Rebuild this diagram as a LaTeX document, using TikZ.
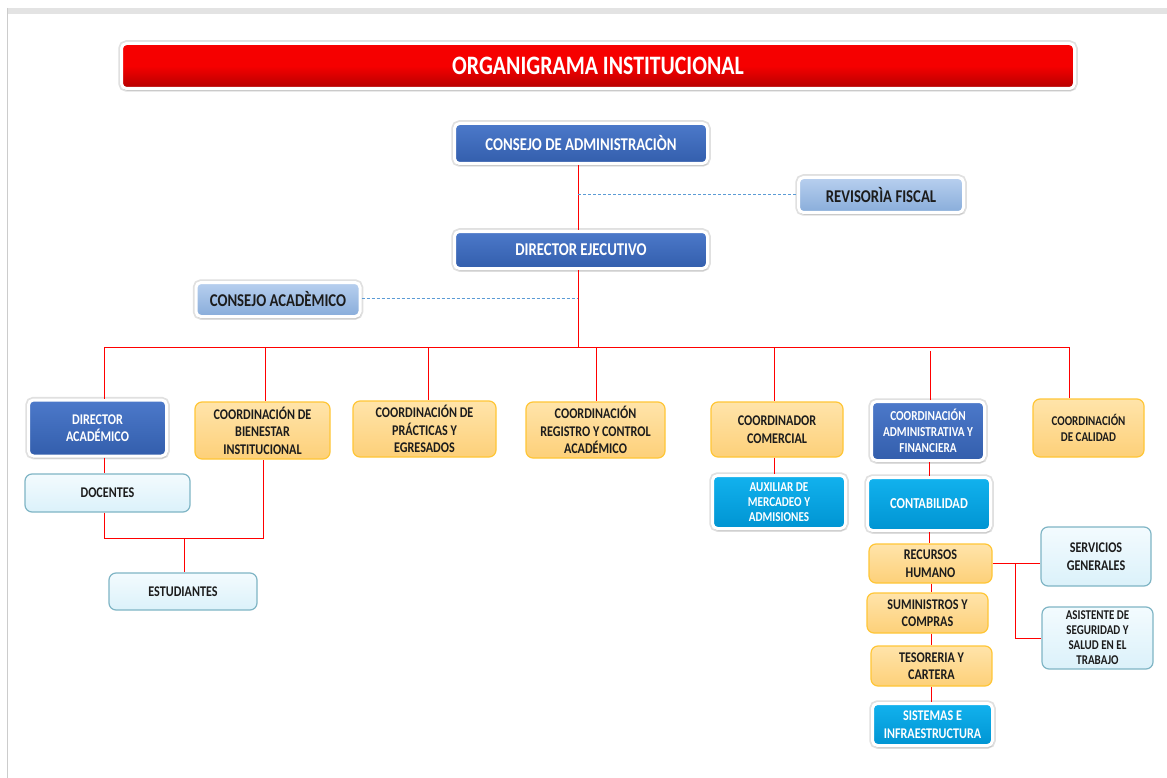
\documentclass[tikz,border=0pt]{standalone}
\usepackage{fontspec}
\newfontfamily\carl[FakeStretch=0.82]{Carlito}
\usetikzlibrary{shadows}
\definecolor{dtop}{HTML}{4C79CA}
\definecolor{dbot}{HTML}{335EAC}
\definecolor{ltop}{HTML}{B8D0EF}
\definecolor{lbot}{HTML}{88ACDA}
\definecolor{otop}{HTML}{FFE4AA}
\definecolor{obot}{HTML}{FDD079}
\definecolor{oline}{HTML}{FFC636}
\definecolor{ptop}{HTML}{F3FBFE}
\definecolor{pbot}{HTML}{DBF1FA}
\definecolor{pline}{HTML}{7FB5C5}
\definecolor{ctop}{HTML}{12B2EE}
\definecolor{cbot}{HTML}{0094D2}
\definecolor{rtop}{HTML}{F70000}
\definecolor{rbot}{HTML}{B40000}
\definecolor{dashc}{HTML}{5B9BD5}
\definecolor{txt}{HTML}{1C1C1C}
\tikzset{
  box/.style={rounded corners=5pt, inner sep=1pt, align=center,
    font=\carl\bfseries\fontsize{14.8}{17.5}\selectfont},
  shd/.style={preaction={draw=black!12, line width=6.5pt},
    drop shadow={opacity=0.22, shadow xshift=1pt, shadow yshift=-2.5pt}},
  dbox/.style={box, shd, top color=dtop, bottom color=dbot, draw=white, line width=3pt, text=white},
  lbox/.style={box, shd, top color=ltop, bottom color=lbot, draw=white, line width=3pt, text=txt},
  obox/.style={box, rounded corners=7pt, top color=otop, bottom color=obot, draw=oline, line width=1.2pt, text=txt},
  pbox/.style={box, rounded corners=7pt, top color=ptop, bottom color=pbot, draw=pline, line width=1.2pt, text=txt},
  cbox/.style={box, shd, top color=ctop, bottom color=cbot, draw=white, line width=3pt, text=white},
  fs/.style 2 args={font=\carl\bfseries\fontsize{#1}{#2}\selectfont},
  rl/.style={draw=red, line width=1pt},
  dashln/.style={draw=dashc, line width=1pt, dash pattern=on 3pt off 2pt},
}
\begin{document}
\begin{tikzpicture}[x=1pt,y=-1pt]
\useasboundingbox (0,0) rectangle (1167,778);
\fill[white] (0,0) rectangle (1167,778);
\fill[gray!22] (7,8) rectangle (1167,14);
\draw[gray!40, line width=1pt] (7.5,8) -- (7.5,778);

% title
\node[box, shd, top color=rtop, bottom color=rbot, middle color=red!96!black, draw=white, line width=3pt,
  text=white, minimum width=953pt, minimum height=45pt, fs={26.6}{30}] (title) at (598,66) {ORGANIGRAMA INSTITUCIONAL};

% top
\node[dbox, fs={18}{21}, minimum width=253pt, minimum height=40pt] (cadm) at (581,143.5) {CONSEJO DE ADMINISTRACIÒN};
\node[lbox, fs={18}{21}, minimum width=165pt, minimum height=35pt] (revf) at (881,195) {REVISORÌA FISCAL};
\node[dbox, fs={18}{21}, minimum width=253pt, minimum height=37pt] (dirE) at (581,250) {DIRECTOR EJECUTIVO};
\node[lbox, fs={18}{21}, minimum width=164pt, minimum height=34pt] (cacad) at (278,299.5) {CONSEJO ACADÈMICO};

% row
\node[dbox, minimum width=138pt, minimum height=56pt] (dirA) at (97.5,428) {DIRECTOR\\ACADÉMICO};
\node[obox, minimum width=135pt, minimum height=57pt] (bien) at (262.5,430.5) {COORDINACIÓN DE\\BIENESTAR\\INSTITUCIONAL};
\node[obox, minimum width=143pt, minimum height=56pt] (prac) at (424.5,429) {COORDINACIÓN DE\\PRÁCTICAS Y\\EGRESADOS};
\node[obox, minimum width=139pt, minimum height=56pt] (regi) at (595.5,430) {COORDINACIÓN\\REGISTRO Y CONTROL\\ACADÉMICO};
\node[obox, minimum width=132pt, minimum height=55pt] (come) at (777,429.5) {COORDINADOR\\COMERCIAL};
\node[dbox, fs={13.7}{16}, minimum width=113pt, minimum height=59pt] (cadf) at (928,431) {COORDINACIÓN\\ADMINISTRATIVA Y\\FINANCIERA};
\node[obox, fs={13.4}{16}, minimum width=111pt, minimum height=58pt] (cali) at (1088.5,428) {COORDINACIÓN\\DE CALIDAD};

% lower
\node[pbox, minimum width=165pt, minimum height=38pt] (doce) at (107.5,493) {DOCENTES};
\node[pbox, minimum width=148pt, minimum height=37pt] (estu) at (183,591.5) {ESTUDIANTES};
\node[cbox, fs={13.6}{15}, minimum width=133pt, minimum height=53pt] (auxi) at (779,502) {AUXILIAR DE\\MERCADEO Y\\ADMISIONES};
\node[cbox, fs={15.2}{18}, minimum width=123pt, minimum height=53pt] (cont) at (929,504) {CONTABILIDAD};
\node[obox, minimum width=123pt, minimum height=39pt] (recu) at (930.5,563.5) {RECURSOS\\HUMANO};
\node[obox, minimum width=121pt, minimum height=40pt] (sumi) at (927.5,613) {SUMINISTROS Y\\COMPRAS};
\node[obox, minimum width=121pt, minimum height=40pt] (teso) at (931.5,666) {TESORERIA Y\\CARTERA};
\node[cbox, minimum width=120pt, minimum height=42pt] (sist) at (932.5,724.5) {SISTEMAS E\\INFRAESTRUCTURA};
\node[pbox, minimum width=110pt, minimum height=59pt] (serv) at (1096,556.5) {SERVICIOS\\GENERALES};
\node[pbox, fs={13.4}{15}, minimum width=111pt, minimum height=62pt] (asis) at (1097.5,638) {ASISTENTE DE\\SEGURIDAD Y\\SALUD EN EL\\TRABAJO};

% connectors
\coordinate (bus) at (578,347);
\coordinate (rfj) at (578,195);
\coordinate (caj) at (578,298);
\draw[rl] (cadm.south -| bus) -- (dirE.north -| bus);
\draw[rl] (dirE.south -| bus) -- (bus);
\draw[dashln] (rfj) -- (revf.west);
\draw[dashln] (cacad.east |- caj) -- (caj);
\coordinate (bl) at (104,347);
\coordinate (br) at (1069,347);
\draw[rl] (bl) -- (br);
\draw[rl] (bl) -- (dirA.north -| bl);
\coordinate (b2) at (265,347); \draw[rl] (b2) -- (bien.north -| b2);
\coordinate (b3) at (428,347); \draw[rl] (b3) -- (prac.north -| b3);
\coordinate (b4) at (596,347); \draw[rl] (b4) -- (regi.north -| b4);
\coordinate (b5) at (774,347); \draw[rl] (b5) -- (come.north -| b5);
\coordinate (b6) at (930,351); \draw[rl] (b6) -- (cadf.north -| b6);
\draw[rl] (br) -- (cali.north -| br);

\coordinate (j1) at (104,538);
\coordinate (j2) at (263,538);
\coordinate (j3) at (184,538);
\draw[rl] (dirA.south -| j1) -- (doce.north -| j1);
\draw[rl] (doce.south -| j1) -- (j1) -- (j2) -- (bien.south -| j2);
\draw[rl] (j3) -- (estu.north -| j3);

\coordinate (k1) at (774,0);
\draw[rl] (come.south -| k1) -- (auxi.north -| k1);
\coordinate (k2) at (929,0);
\draw[rl] (cadf.south -| k2) -- (cont.north -| k2);
\draw[rl] (cont.south -| k2) -- (recu.north -| k2);
\coordinate (k3) at (931,0);
\draw[rl] (recu.south -| k3) -- (sumi.north -| k3);
\draw[rl] (sumi.south -| k3) -- (teso.north -| k3);
\draw[rl] (teso.south -| k3) -- (sist.north -| k3);
\coordinate (k4) at (1015,563);
\draw[rl] (recu.east |- k4) -- (serv.west |- k4);
\draw[rl] (k4) |- (asis.west);
\end{tikzpicture}
\end{document}
